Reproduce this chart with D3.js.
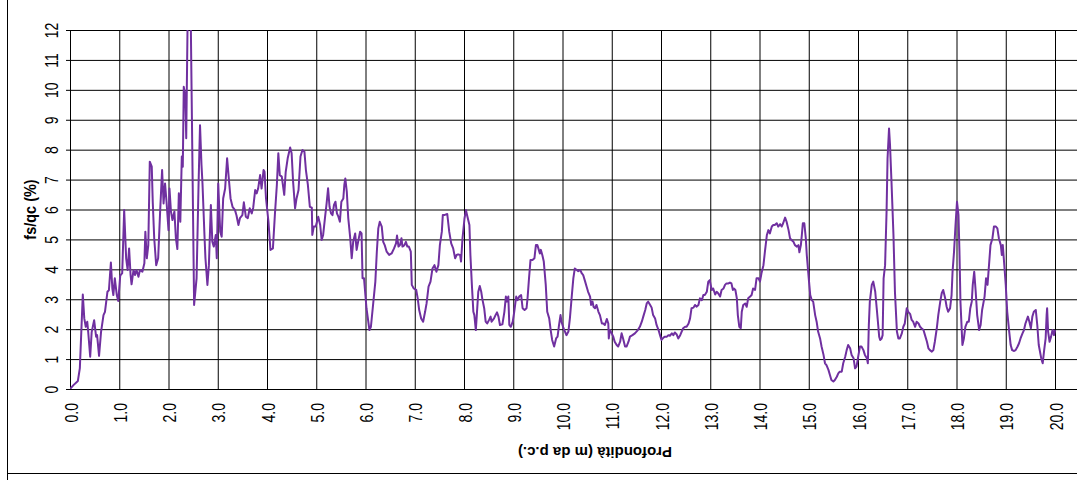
<!DOCTYPE html>
<html>
<head>
<meta charset="utf-8">
<script src="https://cdn.jsdelivr.net/npm/d3@7"></script>
<style>
  html, body { margin: 0; padding: 0; background: #fff; }
  svg { display: block; }
</style>
</head>
<body>
<div class="graph__canvas"></div>
<script>
// Depth (m) and fs/qc (%)
var depth = [
  0.00,0.07,0.16,0.20,0.26,0.29,0.32,0.35,0.37,0.41,0.44,0.49,0.53,0.55,0.59,0.63,0.68,0.71,0.76,0.79,
  0.83,0.86,0.88,0.91,0.95,0.98,1.02,1.06,1.10,1.14,1.17,1.20,1.23,1.25,1.29,1.32,1.35,1.39,1.42,1.47,
  1.51,1.53,1.56,1.59,1.62,1.66,1.68,1.71,1.75,1.79,1.83,1.87,1.90,1.93,1.96,2.00,2.02,2.05,2.08,2.12,
  2.15,2.18,2.21,2.24,2.27,2.29,2.31,2.34,2.36,2.39,2.42,2.45,2.52,2.57,2.61,2.64,2.67,2.69,2.73,2.75,
  2.79,2.82,2.86,2.89,2.92,2.96,2.98,3.01,3.05,3.08,3.11,3.15,3.19,3.23,3.26,3.30,3.35,3.38,3.42,3.45,
  3.50,3.53,3.57,3.61,3.65,3.69,3.72,3.76,3.79,3.82,3.86,3.89,3.93,
  3.95,3.98,4.03,4.07,4.12,4.16,4.20,4.23,4.26,4.30,4.35,4.38,4.42,4.47,4.50,4.53,4.57,4.60,4.64,4.68,
  4.72,4.76,4.79,4.83,4.87,4.91,4.92,4.95,4.99,5.04,5.08,5.11,5.14,5.18,5.21,5.24,5.27,5.30,5.33,5.36,
  5.39,5.42,5.45,5.48,5.51,5.55,5.57,5.59,5.62,5.65,5.69,5.72,5.75,5.79,5.82,5.85,5.89,5.92,5.94,5.97,
  6.02,6.08,6.11,6.16,6.20,6.23,6.26,6.29,6.33,6.36,6.39,6.43,6.48,6.53,6.58,6.62,6.64,6.67,6.70,6.73,
  6.75,6.79,6.82,6.85,6.88,6.92,6.94,6.98,7.03,7.06,7.09,7.13,7.17,7.21,7.24,7.28,7.32,7.36,7.40,7.44,
  7.48,7.51,7.55,7.57,7.61,7.66,7.70,7.74,7.78,7.82,7.85,7.88,
  7.92,7.94,7.97,8.01,8.04,8.07,8.11,8.13,8.16,8.19,8.21,8.24,8.26,8.29,8.32,8.35,8.37,8.41,8.44,8.47,
  8.51,8.54,8.56,8.61,8.64,8.67,8.70,8.73,8.78,8.82,8.85,8.87,8.90,8.92,8.95,8.99,9.02,9.06,9.09,9.12,
  9.16,9.19,9.23,9.27,9.29,9.32,9.35,9.39,9.43,9.46,9.49,9.51,9.54,9.56,9.59,9.62,9.66,9.69,9.73,9.76,
  9.79,9.83,9.87,9.90,9.93,9.96,9.98,10.02,10.05,10.08,10.12,10.15,10.19,10.22,10.25,10.29,10.32,10.36,10.39,10.42,
  10.46,10.49,10.52,10.56,10.58,10.61,10.63,10.66,10.69,10.73,10.76,10.80,10.83,10.86,10.90,10.93,10.94,10.96,11.00,11.03,
  11.06,11.10,11.13,11.17,11.20,11.23,11.27,11.30,11.34,11.37,11.42,11.47,11.53,11.57,11.61,11.64,11.68,11.71,11.74,11.78,
  11.81,11.84,11.88,
  11.91,11.95,11.98,12.01,12.05,12.08,12.12,12.15,12.18,12.22,12.25,12.28,12.32,12.35,12.39,12.42,12.45,12.49,12.52,12.56,
  12.59,12.62,12.66,12.69,12.72,12.76,12.79,12.83,12.86,12.89,12.93,12.96,12.99,13.03,13.06,13.10,13.13,13.16,13.20,13.23,
  13.27,13.30,13.33,13.37,13.40,13.43,13.46,13.48,13.51,13.54,13.56,13.59,13.62,13.64,13.67,13.71,13.74,13.77,13.81,13.84,
  13.87,13.91,13.94,13.98,14.01,14.04,14.08,14.11,14.15,14.18,14.21,14.25,14.28,14.31,14.35,14.38,14.42,14.45,14.48,14.52,
  14.55,14.59,14.62,14.65,14.69,14.72,14.76,14.79,14.81,14.84,14.86,14.88,14.91,14.94,14.96,15.00,15.03,15.06,15.09,15.13,
  15.16,15.19,15.23,15.26,15.30,15.33,15.36,15.40,15.43,15.46,15.50,15.53,15.57,15.60,15.63,15.67,15.70,15.74,15.77,15.80,
  15.84,
  15.87,15.91,15.94,15.97,16.01,16.04,16.07,16.11,16.14,16.18,16.20,16.22,16.24,16.28,16.31,16.35,16.38,16.41,16.43,16.45,
  16.48,16.50,16.52,16.55,16.58,16.60,16.63,16.65,16.68,16.72,16.75,16.79,16.82,16.85,16.89,16.92,16.95,16.99,17.02,17.06,
  17.09,17.12,17.16,17.19,17.23,17.26,17.29,17.33,17.36,17.40,17.43,17.46,17.50,17.53,17.56,17.60,17.63,17.67,17.70,17.73,
  17.77,17.80,17.83,17.87,17.90,17.92,17.95,17.98,18.01,18.04,18.06,18.08,18.12,18.15,18.18,18.22,18.25,18.28,18.31,18.33,
  18.36,18.39,18.42,18.46,18.49,18.52,18.57,18.60,18.63,18.66,18.69,18.73,18.76,18.80,18.83,18.86,18.90,18.92,18.94,18.96,
  19.00,19.03,19.07,19.10,19.13,19.17,19.20,19.24,19.27,19.30,19.34,19.37,19.40,19.45,19.48,19.51,19.54,19.57,19.61,19.64,
  19.67,19.72,19.75,19.78,19.81,19.83,19.84,19.86,19.89,19.92,19.95,19.98,20.00
];

var fsqc = [
  0,0.13,0.27,0.7,3.16,2.36,2.08,2.25,1.9,1.08,1.9,2.3,1.75,1.8,1.11,1.9,2.47,2.58,3.25,3.3,
  4.23,3.36,3.14,3.7,3.14,2.94,3.79,3.87,5.98,4.37,3.98,4.7,3.81,3.5,3.98,3.81,3.98,3.75,3.98,3.92,
  4.2,5.26,4.37,4.81,7.6,7.43,6.26,5.04,4.14,4.37,5.93,7.32,6.2,6.87,6.26,5.31,6.7,5.93,5.65,5.93,
  5.04,4.68,6.54,5.59,7.77,7.43,10.1,9.83,8.38,12.6,14,12.6,2.81,3.7,6.82,8.82,7.49,6.87,5.15,4.37,
  3.48,4.14,6.15,4.92,4.76,5.15,4.37,6.87,5.26,5.09,6.37,6.7,7.71,6.93,6.37,6.09,5.98,5.81,5.48,5.71,
  5.81,6.24,5.76,5.71,6.04,5.87,6.06,6.65,6.54,6.7,7.15,6.7,7.32,
  7.26,6.37,5.59,4.65,4.7,5.82,6.82,7.88,7.15,7.1,6.49,7.26,7.71,8.07,7.88,6.93,6.04,6.37,6.65,7.77,
  7.99,7.93,7.32,6.82,6.09,6.06,5.15,5.43,5.43,5.76,5.48,4.98,5.15,5.76,6.2,6.71,6.09,5.87,5.81,6.15,
  6.26,5.87,5.76,5.59,6.26,6.37,6.82,7.04,6.6,5.71,5.04,4.37,4.92,5.2,4.65,4.92,5.26,5.2,3.7,3.7,
  2.7,1.97,2.08,2.92,3.59,4.59,5.37,5.59,5.43,4.92,4.81,4.59,4.48,4.53,4.7,4.87,5.13,4.76,4.81,5.04,
  4.76,4.81,4.92,4.76,4.76,4.59,3.48,3.36,3.31,3.03,2.64,2.36,2.25,2.58,2.86,3.42,3.59,4.03,4.14,3.92,
  4.14,4.81,5.26,5.82,5.82,5.85,5.26,4.87,4.7,4.37,4.48,4.5,
  4.48,4.26,5.04,5.7,5.98,5.76,5.48,4.48,3.48,2.58,2.47,1.97,2.47,3.25,3.44,3.25,3.03,2.7,2.25,2.19,
  2.31,2.42,2.25,2.36,2.47,2.56,2.42,2.14,2.16,2.58,3.09,2.92,3.09,2.14,2.08,2.25,2.58,3.09,2.97,3.09,
  3.14,2.7,2.64,2.7,3.03,3.7,4.31,4.31,4.37,4.81,4.81,4.7,4.53,4.65,4.48,4.26,3.48,2.58,2.36,1.97,
  1.64,1.42,1.69,1.75,2.14,2.47,2.25,2.03,1.92,1.8,1.92,2.36,3.14,3.7,4.03,3.98,3.94,3.98,3.87,3.81,
  3.59,3.42,3.25,3.09,2.81,2.92,2.75,2.7,2.81,2.58,2.47,2.19,2.19,2.14,2.34,2.19,1.69,1.97,1.86,1.75,
  1.58,1.47,1.42,1.58,1.86,1.69,1.42,1.42,1.58,1.75,1.8,1.86,1.97,2.08,2.25,2.42,2.64,2.86,2.92,2.81,
  2.72,2.47,2.36,
  2.14,1.97,1.8,1.64,1.72,1.75,1.75,1.8,1.78,1.86,1.8,1.89,1.82,1.69,1.8,1.92,2.03,2.08,2.08,2.19,
  2.36,2.7,2.72,2.81,2.75,2.81,3.03,2.97,3.14,3.14,3.25,3.59,3.64,3.31,3.36,3.16,3.25,3.2,3.09,3.31,
  3.36,3.48,3.53,3.53,3.56,3.53,3.31,3.36,3.31,3.03,2.47,2.08,2.03,2.58,2.81,2.86,2.75,3.03,3.09,3.14,
  3.36,3.31,3.7,3.7,3.59,3.87,4.14,4.59,5.15,5.31,5.2,5.43,5.48,5.48,5.54,5.43,5.51,5.43,5.54,5.73,
  5.59,5.31,5.04,4.98,4.92,4.81,4.76,4.81,4.57,4.81,5.15,5.54,5.54,5.04,4.48,3.7,3.14,2.97,2.92,2.47,
  2.25,1.92,1.69,1.42,1.14,0.86,0.8,0.64,0.47,0.3,0.25,0.3,0.41,0.52,0.58,0.58,0.86,1.08,1.3,1.47,
  1.36,
  1.14,1.03,0.69,0.75,1.14,1.42,1.42,1.3,1.14,1.03,0.86,2.14,2.92,3.48,3.59,3.25,2.7,2.14,1.75,1.64,
  1.69,1.8,3.7,4.14,5.93,7.71,8.71,8.16,6.93,5.15,3.25,1.92,1.69,1.69,1.86,2.08,2.19,2.7,2.58,2.5,
  2.31,2.25,2.08,2.25,2.19,2.08,2.03,1.97,1.8,1.58,1.36,1.3,1.25,1.3,1.58,2.03,2.47,2.92,3.2,3.31,
  3.03,2.75,2.58,2.7,3.14,3.92,4.59,5.48,6.26,5.82,4.59,2.92,1.47,1.69,2.08,2.25,2.25,2.7,2.92,3.48,
  3.92,3.25,2.47,1.97,2.14,2.64,3.09,3.7,3.48,4.14,4.81,5.04,5.43,5.43,5.37,5.04,4.81,4.48,4.81,4.37,
  3.48,2.58,1.92,1.47,1.3,1.27,1.3,1.42,1.53,1.69,1.86,1.97,2.19,2.42,2.25,2.03,2.42,2.58,2.64,2.14,
  1.47,1.03,0.86,1.3,1.69,2.47,2.7,1.92,1.58,1.75,1.97,1.8,1.97
];

// Tick values and labels
var xTicks = d3.range(0, 21);
var yTicks = d3.range(0, 13);
var xLabel = "Profondità (m da p.c.)";
var yLabel = "fs/qc (%)";

var configuration = {
  width: 1077,
  height: 480,
  left: 70,
  right: 1055,
  top: 30,
  bottom: 389
};

var svg = d3.select(".graph__canvas")
  .append("svg")
    .attr("width", configuration.width)
    .attr("height", configuration.height)
    .style("font-family", "'Liberation Sans', Arial, sans-serif");

// Scales
var x = d3.scaleLinear().domain([0, 20]).range([configuration.left, configuration.right]);
var y = d3.scaleLinear().domain([0, 12]).range([configuration.bottom, configuration.top]);

// Outer chart frame (only left and bottom edges fall inside the picture)
svg.append("line")
  .attr("x1", 7.5).attr("x2", 7.5).attr("y1", 0).attr("y2", configuration.height)
  .attr("stroke", "#000").attr("stroke-width", 1);
svg.append("line")
  .attr("x1", 7.5).attr("x2", configuration.width).attr("y1", 473.5).attr("y2", 473.5)
  .attr("stroke", "#000").attr("stroke-width", 1);

// Horizontal gridlines with y axis ticks
var yAxis = svg.append("g")
  .attr("transform", "translate(" + configuration.left + ",0)")
  .call(d3.axisLeft(y).tickValues(yTicks).tickSizeInner(-(configuration.width + 60 - configuration.left)).tickSizeOuter(0).tickFormat(d3.format("d")));
yAxis.select(".domain").remove();
yAxis.selectAll(".tick line").attr("stroke", "#000").attr("x1", -4);
yAxis.selectAll(".tick text")
  .attr("x", null).attr("dy", null)
  .attr("text-anchor", "middle")
  .attr("font-size", 14)
  .attr("fill", "#000")
  .attr("transform", "translate(-12,0) scale(1.25,1) rotate(-90)");

// Vertical gridlines with x axis labels
var xAxis = svg.append("g")
  .attr("transform", "translate(0," + configuration.bottom + ")")
  .call(d3.axisBottom(x).tickValues(xTicks).tickSizeInner(-(configuration.bottom - configuration.top)).tickSizeOuter(0).tickFormat(d3.format(".1f")));
xAxis.select(".domain").remove();
xAxis.selectAll(".tick line").attr("stroke", "#000");
xAxis.selectAll(".tick text")
  .attr("y", null).attr("dy", null)
  .attr("text-anchor", "end")
  .attr("font-size", 14)
  .attr("fill", "#000")
  .attr("transform", "translate(7,14) scale(1.25,1) rotate(-90)");

// Axis titles
svg.append("text")
  .attr("transform", "translate(36," + ((configuration.top + configuration.bottom) / 2) + ") scale(1.2,1) rotate(-90)")
  .attr("text-anchor", "middle")
  .attr("font-size", 14.5)
  .attr("font-weight", "bold")
  .text(yLabel);

svg.append("text")
  .attr("transform", "translate(595,447) rotate(180)")
  .attr("text-anchor", "middle")
  .attr("font-size", 15)
  .attr("font-weight", "bold")
  .text(xLabel);

// Clip the trace to the plot area
svg.append("clipPath")
  .attr("id", "plot-clip")
  .append("rect")
    .attr("x", configuration.left)
    .attr("y", configuration.top)
    .attr("width", configuration.width - configuration.left)
    .attr("height", configuration.bottom - configuration.top);

var points = depth.map(function(d, i) { return [d, fsqc[i]]; });

var line = d3.line()
  .x(function(p) { return x(p[0]); })
  .y(function(p) { return y(p[1]); });

svg.append("path")
  .datum(points)
  .attr("clip-path", "url(#plot-clip)")
  .attr("fill", "none")
  .attr("stroke", "#7030A0")
  .attr("stroke-width", 2)
  .attr("stroke-linejoin", "round")
  .attr("d", line);
</script>
</body>
</html>
